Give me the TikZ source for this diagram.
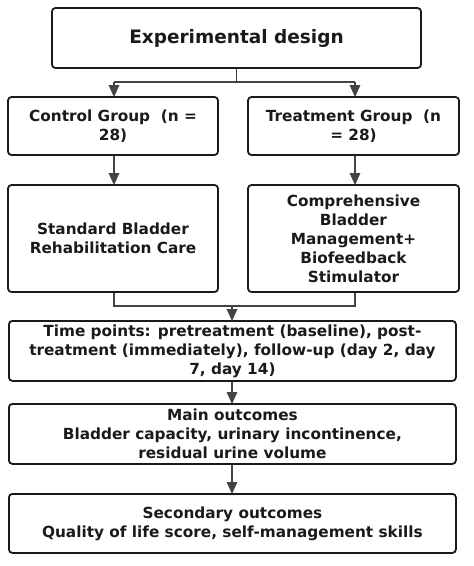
\documentclass[tikz,border=0pt]{standalone}
\usepackage{fontspec}
\setmainfont{DejaVu Sans}
\usetikzlibrary{arrows.meta}
\definecolor{ink}{HTML}{1A1A1A}
\definecolor{conn}{HTML}{444444}
\tikzset{
  box/.style={draw=ink, line width=1.8pt, rounded corners=3.5pt, inner sep=0pt, align=center, font=\bfseries\fontsize{15.3}{19}\selectfont, text=ink},
  conline/.style={draw=conn, line width=1.5pt},
  arr/.style={conline, -{Triangle[length=12pt,width=10.5pt]}, shorten >=-1pt},
}
\begin{document}
\begin{tikzpicture}[x=1pt,y=-1pt]
\useasboundingbox (0,0) rectangle (474,566);
\fill[white] (0,0) rectangle (474,566);
\node[box, minimum width=369pt, minimum height=60pt, font=\bfseries\fontsize{18.5}{22}\selectfont] (top) at (236.5,38) {Experimental design};
\node[box, minimum width=210pt, minimum height=58pt] (ctrl) at (113,126) {Control Group\ \ (n =\\28)};
\node[box, minimum width=211pt, minimum height=58pt] (trt) at (353.5,126) {Treatment Group\ \ (n\\= 28)};
\node[box, minimum width=210pt, minimum height=107pt] (std) at (113,238.5) {Standard Bladder\\Rehabilitation Care};
\node[box, minimum width=211pt, minimum height=107pt] (comp) at (353.5,238.5) {Comprehensive\\Bladder\\Management+\\Biofeedback\\Stimulator};
\node[box, minimum width=447pt, minimum height=60pt, anchor=north west] (time) at (8,320) {Time points: pretreatment (baseline), post-\\treatment (immediately), follow-up (day 2, day\\7, day 14)};
\node[box, minimum width=447pt, minimum height=60pt, anchor=north west] (main) at (8,403) {Main outcomes\\Bladder capacity, urinary incontinence,\\residual urine volume};
\node[box, minimum width=447pt, minimum height=59pt, anchor=north west] (sec) at (8,493) {Secondary outcomes\\Quality of life score, self-management skills};
\coordinate (j1) at (236.5,82);
\coordinate (j1l) at (114,82);
\coordinate (j1r) at (355,82);
\draw[conline] (top.south) -- (j1);
\draw[conline] (j1l) -- (j1r);
\draw[arr] (j1l) -- (j1l |- ctrl.north);
\draw[arr] (j1r) -- (j1r |- trt.north);
\draw[arr] (ctrl.south -| j1l) -- (std.north -| j1l);
\draw[arr] (trt.south -| j1r) -- (comp.north -| j1r);
\coordinate (j2l) at (114,306);
\coordinate (j2r) at (355,306);
\coordinate (j2) at (232,306);
\draw[conline] (std.south -| j2l) -- (j2l) -- (j2r) -- (comp.south -| j2r);
\draw[arr] (j2) -- (j2 |- time.north);
\draw[arr] (time.south -| j2) -- (main.north -| j2);
\draw[arr] (main.south -| j2) -- (sec.north -| j2);
\end{tikzpicture}
\end{document}
